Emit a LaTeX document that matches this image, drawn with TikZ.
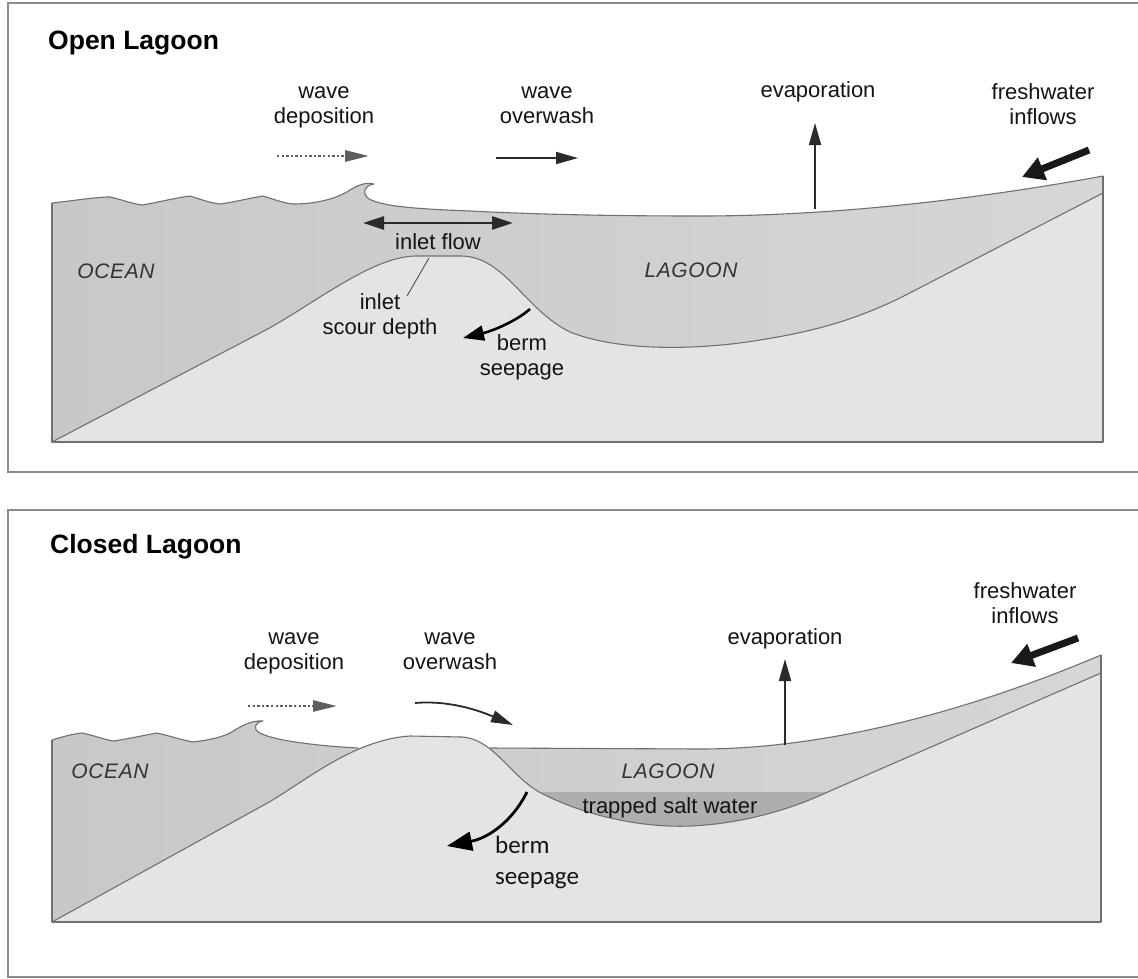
\documentclass[tikz,border=0pt]{standalone}
\usepackage{fontspec}
\setmainfont{Liberation Sans}
\newfontfamily\carlito{Carlito}
\usetikzlibrary{arrows.meta}
\definecolor{framec}{HTML}{8C8C8C}
\definecolor{outline}{HTML}{707070}
\definecolor{groundc}{HTML}{E4E4E4}
\definecolor{waterL}{HTML}{C8C8C8}
\definecolor{waterR}{HTML}{D6D6D6}
\definecolor{saltc}{HTML}{AEAEAE}
\definecolor{arrowc}{HTML}{2A2A2A}
\definecolor{dotc}{HTML}{5E5E5E}
\definecolor{labelc}{HTML}{141414}
\definecolor{regionc}{HTML}{333333}
\tikzset{
  panelframe/.style={draw=framec, line width=1.6pt},
  edge/.style={draw=outline, line width=1.1pt, line join=round},
  lbl/.style={inner sep=0pt, align=center, font=\fontsize{22}{25}\selectfont, text=labelc},
  region/.style={inner sep=0pt, font=\itshape\fontsize{21}{25}\selectfont\addfontfeature{LetterSpace=3}, text=regionc},
  title/.style={inner sep=0pt, anchor=base west, font=\bfseries\fontsize{26.5}{30}\selectfont, text=black},
  thinarrow/.style={draw=arrowc, line width=1.8pt, -{Triangle[length=22pt,width=12pt]}},
  dotarrow/.style={draw=dotc, line width=2.8pt, dash pattern=on 2.4pt off 2.2pt, -{Triangle[length=24pt,width=11pt,fill=dotc]}},
  inletarrow/.style={draw=arrowc, line width=2.6pt, {Triangle[length=21pt,width=13pt]}-{Triangle[length=21pt,width=13pt]}},
  bermarrow/.style={draw=black, line width=2.6pt, -{Triangle[length=21pt,width=15pt]}},
  bigbermarrow/.style={draw=black, line width=2.8pt, -{Triangle[length=25pt,width=19pt]}},
  inflowarrow/.style={draw=black!90, line width=7pt, -{Triangle[length=22pt,width=23pt]}},
  leader/.style={draw=black!70, line width=0.9pt}
}
\def\TopSurf{(52,203) .. controls (72,201) and (95,197) .. (110,197) .. controls (120,199) and (132,204) .. (143,205) .. controls (158,202) and (176,198) .. (190,196) .. controls (200,199) and (210,203) .. (220,204) .. controls (235,202) and (250,198) .. (263,196) .. controls (273,199) and (283,203) .. (293,204) .. controls (318,204) and (338,198) .. (350,190) .. controls (358,185) and (366,182) .. (374,184) .. controls (365,185) and (361,193) .. (369,199) .. controls (385,207) and (420,209) .. (470,211) .. controls (530,214) and (600,216) .. (700,216) .. controls (850,216) and (1000,195) .. (1103,176)}
\def\TopGround{(52,442) -- (262,332) .. controls (310,307) and (370,257) .. (415,256) -- (462,256) .. controls (505,257) and (525,310) .. (570,332) .. controls (620,352) and (700,350) .. (760,340) .. controls (810,332) and (850,322) .. (900,298) -- (1103,193)}
\def\BotOcean{(52,740) .. controls (62,737) and (72,734) .. (82,733) .. controls (92,735) and (103,739) .. (113,741) .. controls (128,739) and (145,735) .. (157,733) .. controls (170,736) and (182,740) .. (193,742) .. controls (210,740) and (222,737) .. (230,733) .. controls (240,727) and (250,720) .. (263,721) .. controls (255,722) and (252,729) .. (260,733) .. controls (275,741) and (320,746) .. (358,748)}
\def\BotLagoon{(490,748) -- (700,749) .. controls (820,749) and (960,715) .. (1101,655)}
\def\BotGround{(52,922) -- (262,806) .. controls (300,786) and (350,740) .. (410,736) -- (462,737) .. controls (495,739) and (512,780) .. (545,795) .. controls (585,815) and (640,828) .. (690,826) .. controls (740,824) and (790,810) .. (830,791) -- (1101,673)}
\begin{document}
\begin{tikzpicture}[x=1pt,y=-1pt]
\useasboundingbox (0,0) rectangle (1138,978);
\clip (0,0) rectangle (1138,978);
\fill[white] (0,0) rectangle (1138,978);

% ---------- panel frames ----------
\draw[panelframe] (1150,3) -- (8,3) -- (8,472) -- (1150,472);
\draw[panelframe] (1150,510) -- (8,510) -- (8,977) -- (1150,977);

% ---------- OPEN LAGOON ----------
\shade[left color=waterL, right color=waterR] \TopSurf -- (1103,442) -- (52,442) -- cycle;
\fill[groundc] \TopGround -- (1103,442) -- cycle;
\draw[edge] \TopSurf;
\draw[edge] \TopGround;
\draw[edge] (52,203) -- (52,442) -- (1103,442) -- (1103,176);

\node[title] (t1) at (48,49) {Open Lagoon};
\node[lbl] (wd1) at (324,105.5) {\strut wave\\\strut deposition};
\node[lbl] (wo1) at (547,105.5) {\strut wave\\\strut overwash};
\node[lbl] (ev1) at (818,92) {\strut evaporation};
\node[lbl] (fw1) at (1043,106.5) {\strut freshwater\\\strut inflows};
\node[lbl] (if1) at (438,244) {\strut inlet flow};
\node[lbl] (isd1) at (380,316.5) {\strut inlet\\\strut scour depth};
\node[lbl] (bs1) at (522,357.5) {\strut berm\\\strut seepage};
\node[region] (oc1) at (116,273) {\strut OCEAN};
\node[region] (lg1) at (691,272) {\strut LAGOON};

\coordinate (dA1) at (277,156); \coordinate (dB1) at (369,156);
\coordinate (oA1) at (496,158); \coordinate (oB1) at (578,158);
\coordinate (eA1) at (815,209); \coordinate (eB1) at (815,123);
\coordinate (fA1) at (1089,150); \coordinate (fB1) at (1022,177);
\coordinate (iA1) at (363,223); \coordinate (iB1) at (513,223);
\coordinate (bA1) at (530,309); \coordinate (bB1) at (463,338);
\coordinate (sA1) at (429,258); \coordinate (sB1) at (407,296);

\draw[dotarrow] (dA1) -- (dB1);
\draw[thinarrow] (oA1) -- (oB1);
\draw[thinarrow] (eA1) -- (eB1);
\draw[inflowarrow] (fA1) -- (fB1);
\draw[inletarrow] (iA1) -- (iB1);
\draw[bermarrow] (bA1) .. controls (515,322) and (492,331) .. (bB1);
\draw[leader] (sA1) -- (sB1);

% ---------- CLOSED LAGOON ----------
\shade[left color=waterL, right color=waterR] \BotOcean -- \BotLagoon -- (1101,922) -- (52,922) -- cycle;
\fill[saltc] (500,792) rectangle (900,922);
\fill[groundc] \BotGround -- (1101,922) -- cycle;
\draw[edge] \BotOcean;
\draw[edge] \BotLagoon;
\draw[edge] \BotGround;
\draw[edge] (52,740) -- (52,922) -- (1101,922) -- (1101,655);

\node[title] (t2) at (50,553) {Closed Lagoon};
\node[lbl] (wd2) at (294,651.5) {\strut wave\\\strut deposition};
\node[lbl] (wo2) at (450,651.5) {\strut wave\\\strut overwash};
\node[lbl] (ev2) at (785,639) {\strut evaporation};
\node[lbl] (fw2) at (1025,605.5) {\strut freshwater\\\strut inflows};
\node[region] (oc2) at (110,773) {\strut OCEAN};
\node[region] (lg2) at (668,773) {\strut LAGOON};
\node[lbl] (ts2) at (670,808) {\strut trapped salt water};
\node[inner sep=0pt, anchor=west, align=left, text=labelc, font=\carlito\fontsize{25}{31}\selectfont] (bs2) at (495,863) {\strut berm\\\strut seepage};

\coordinate (dA2) at (248,706); \coordinate (dB2) at (337,706);
\coordinate (oA2) at (415,703); \coordinate (oB2) at (513,725);
\coordinate (eA2) at (785,745); \coordinate (eB2) at (785,659);
\coordinate (fA2) at (1078,638); \coordinate (fB2) at (1011,663);
\coordinate (bA2) at (527,792); \coordinate (bB2) at (447,846);

\draw[dotarrow] (dA2) -- (dB2);
\draw[thinarrow] (oA2) .. controls (450,700) and (480,711) .. (oB2);
\draw[thinarrow] (eA2) -- (eB2);
\draw[inflowarrow] (fA2) -- (fB2);
\draw[bigbermarrow] (bA2) .. controls (512,822) and (488,838) .. (bB2);
\end{tikzpicture}
\end{document}
